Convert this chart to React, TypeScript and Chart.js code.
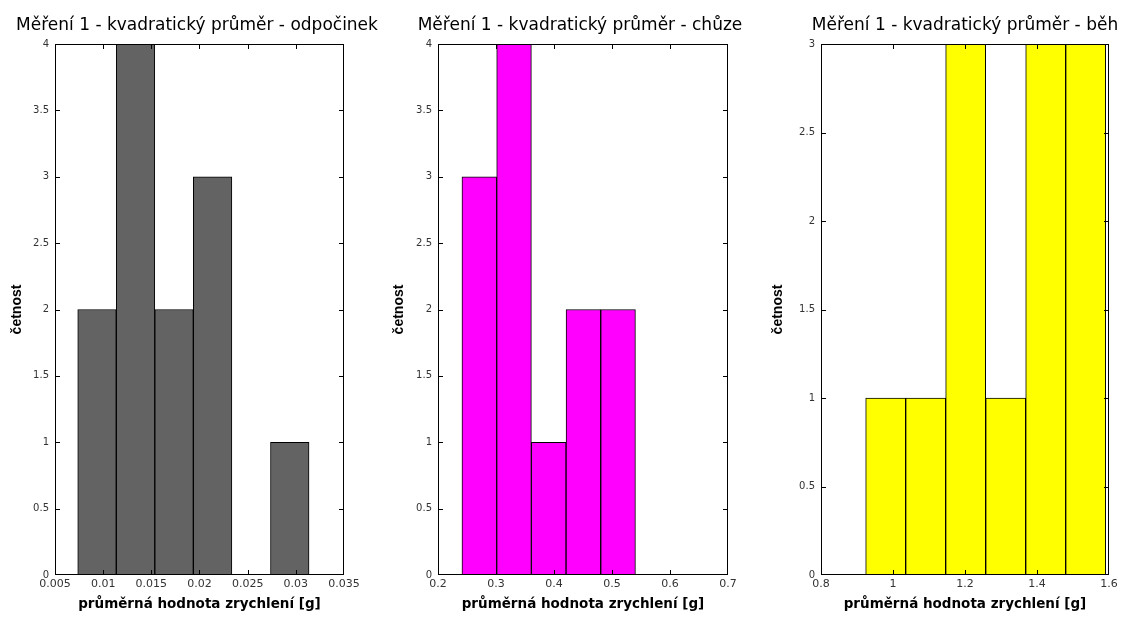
import React, { useEffect, useRef } from "react";
import { Chart, registerables } from "chart.js";

Chart.register(...registerables);

// ---- data ----
const titles = [
  "Měření 1 - kvadratický průměr - odpočinek",
  "Měření 1 - kvadratický průměr - chůze",
  "Měření 1 - kvadratický průměr - běh",
];
const xAxisLabel = "průměrná hodnota zrychlení [g]";
const yAxisLabel = "četnost";

// bin centres [g] and counts
const restCenters = [0.00936, 0.01336, 0.01736, 0.02136, 0.02537, 0.02937];
const restCounts = [2, 4, 2, 3, 0, 1];
const walkCenters = [0.2712, 0.3311, 0.3909, 0.4507, 0.5105];
const walkCounts = [3, 4, 1, 2, 2];
const runCenters = [0.9797, 1.0908, 1.2019, 1.3131, 1.4242, 1.5353];
const runCounts = [1, 1, 3, 1, 3, 3];

// axis ranges [min, max, step]
const restXRange = [0.005, 0.035, 0.005];
const walkXRange = [0.2, 0.7, 0.1];
const runXRange = [0.8, 1.6, 0.2];
const restYRange = [0, 4, 0.5];
const walkYRange = [0, 4, 0.5];
const runYRange = [0, 3, 0.5];

const barColors = ["#636363", "#ff00ff", "#ffff00"];

// ---- layout (page pixels) ----
const CANVAS_H = 619;
const CANVAS_W = 400;
const PLOT_TOP = 44;
const PLOT_BOTTOM = 575;
const panels = [
  { titleCenter: 197, plotLeft: 55, plotRight: 344, yTitleX: 16 },
  { titleCenter: 580, plotLeft: 438, plotRight: 728, yTitleX: 398 },
  { titleCenter: 965, plotLeft: 821, plotRight: 1109, yTitleX: 776.5 },
];

const panelData = [
  { centers: restCenters, counts: restCounts, xr: restXRange, yr: restYRange },
  { centers: walkCenters, counts: walkCounts, xr: walkXRange, yr: walkYRange },
  { centers: runCenters, counts: runCounts, xr: runXRange, yr: runYRange },
];

const fmt = (v: number) => String(Math.round(v * 1e6) / 1e6);

const boxPlugin = {
  id: "matlabBox",
  afterDraw(chart: any) {
    const { ctx, chartArea } = chart;
    const xs = chart.scales.x;
    const ys = chart.scales.y;
    const L = Math.round(chartArea.left);
    const R = Math.round(chartArea.right) - 1;
    const T = Math.round(chartArea.top);
    const B = Math.round(chartArea.bottom) - 1;
    const tl = 5;
    ctx.save();
    ctx.fillStyle = "#000";
    // box
    ctx.fillRect(L, T, R - L + 1, 1);
    ctx.fillRect(L, B, R - L + 1, 1);
    ctx.fillRect(L, T, 1, B - T + 1);
    ctx.fillRect(R, T, 1, B - T + 1);
    // inner ticks on all four sides
    xs.ticks.forEach((t: any) => {
      const px = Math.round(xs.getPixelForValue(t.value));
      const x0 = Math.min(Math.max(px, L), R);
      ctx.fillRect(x0, B - tl + 1, 1, tl);
      ctx.fillRect(x0, T, 1, tl);
    });
    ys.ticks.forEach((t: any) => {
      const py = Math.round(ys.getPixelForValue(t.value));
      const y0 = Math.min(Math.max(py, T), B);
      ctx.fillRect(L, y0, tl, 1);
      ctx.fillRect(R - tl + 1, y0, tl, 1);
    });
    ctx.restore();
  },
};

function Panel({ idx }: { idx: number }) {
  const ref = useRef<HTMLCanvasElement | null>(null);
  const p = panels[idx];
  const canvasLeft = p.titleCenter - CANVAS_W / 2;
  useEffect(() => {
    if (!ref.current) return;
    const d = panelData[idx];
    const yTitleLine = 14 * 1.2;
    const yTitlePad = p.yTitleX - canvasLeft - yTitleLine / 2 + 1.5;
    const yWidth = p.plotLeft - canvasLeft;
    const rightWidth = canvasLeft + CANVAS_W - p.plotRight;
    const titleLine = 17 * 1.2;
    const titleTop = 15.7;
    const titleBottom = PLOT_TOP - titleLine - titleTop;
    const chart = new Chart(ref.current, {
      type: "bar",
      data: {
        datasets: [
          {
            data: d.centers.map((c, i) => ({ x: c, y: d.counts[i] })),
            backgroundColor: barColors[idx],
            borderColor: "#000",
            borderWidth: 1,
            borderSkipped: false,
            barPercentage: 1,
            categoryPercentage: 1,
          },
        ],
      },
      options: {
        responsive: false,
        animation: false,
        layout: { padding: 0 },
        plugins: {
          legend: { display: false },
          tooltip: { enabled: false },
          title: {
            display: true,
            text: titles[idx],
            color: "#000",
            font: { family: "'DejaVu Sans', sans-serif", size: 17, weight: "normal" },
            padding: { top: titleTop, bottom: titleBottom },
          },
        },
        scales: {
          x: {
            type: "linear",
            min: d.xr[0],
            max: d.xr[1],
            offset: false,
            grid: { display: false, drawTicks: false },
            border: { display: false },
            ticks: {
              stepSize: d.xr[2],
              padding: 3,
              color: "#333",
              maxRotation: 0,
              autoSkip: false,
              font: { family: "'DejaVu Sans', sans-serif", size: 11 },
              callback: (v: any) => fmt(Number(v)),
            },
            title: {
              display: true,
              text: xAxisLabel,
              color: "#000",
              font: { family: "'DejaVu Sans', sans-serif", size: 13.5, weight: "bold" },
              padding: { top: 0, bottom: 6 },
            },
            afterFit: (s: any) => {
              s.height = CANVAS_H - PLOT_BOTTOM;
            },
          },
          y: {
            min: d.yr[0],
            max: d.yr[1],
            grid: { display: false, drawTicks: false },
            border: { display: false },
            ticks: {
              stepSize: d.yr[2],
              padding: 6,
              color: "#333",
              autoSkip: false,
              font: { family: "'DejaVu Sans', sans-serif", size: 10 },
              callback: (v: any) => fmt(Number(v)),
            },
            title: {
              display: true,
              text: yAxisLabel,
              color: "#000",
              font: { family: "'Liberation Sans', Arial, sans-serif", size: 14, weight: "bold" },
              padding: { top: yTitlePad, bottom: 0 },
            },
            afterFit: (s: any) => {
              s.width = yWidth;
            },
          },
          yRight: {
            position: "right",
            min: 0,
            max: 1,
            grid: { display: false, drawTicks: false },
            border: { display: false },
            ticks: { display: false },
            afterFit: (s: any) => {
              s.width = rightWidth;
            },
          },
        },
      },
      plugins: [boxPlugin],
    } as any);
    return () => chart.destroy();
  }, [idx]);
  return (
    <canvas
      ref={ref}
      width={CANVAS_W}
      height={CANVAS_H}
      style={{ position: "absolute", left: canvasLeft, top: 0, width: CANVAS_W, height: CANVAS_H }}
    />
  );
}

export default function App() {
  return (
    <div
      style={{
        position: "fixed",
        left: 0,
        top: 0,
        width: 1125,
        height: 619,
        overflow: "hidden",
        background: "#fff",
      }}
    >
      <Panel idx={0} />
      <Panel idx={1} />
      <Panel idx={2} />
    </div>
  );
}
